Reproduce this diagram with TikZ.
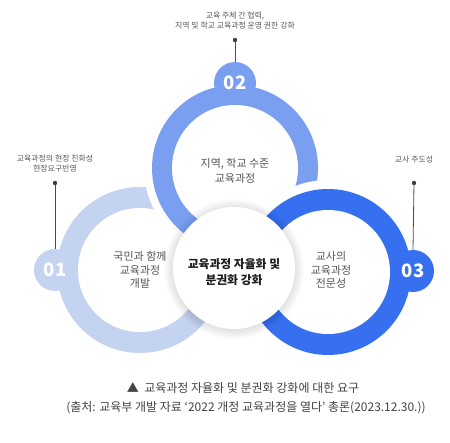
\documentclass[tikz,border=0pt]{standalone}
\usepackage{fontspec}
\setmainfont{Noto Sans CJK KR}
\definecolor{ringA}{HTML}{C4D4F0}
\definecolor{ringB}{HTML}{7A9FF0}
\definecolor{ringC}{HTML}{3670F0}
\definecolor{txtgray}{HTML}{555555}
\definecolor{lblgray}{HTML}{5A5A5A}
\definecolor{capgray}{HTML}{444444}
\tikzset{
  badge/.style={circle, minimum size=42pt, inner sep=0pt, text=white, font=\fontsize{18.5}{18}\selectfont\bfseries},
  ringtext/.style={align=center, text=txtgray, font=\fontsize{11}{13.5}\selectfont, inner sep=0pt},
  lbltext/.style={align=center, text=lblgray, font=\fontsize{7.9}{10}\selectfont, inner sep=0pt},
  centertext/.style={align=center, text=black!88, font=\fontsize{11.8}{15.5}\selectfont\bfseries, inner sep=0pt},
  captext/.style={text=capgray, font=\fontsize{12}{14}\selectfont, inner sep=0pt},
  marker/.style={draw=black!70, line width=0.8pt},
  markdot/.style={fill=black!75}
}
\begin{document}
\begin{tikzpicture}[x=1pt,y=-1pt]
\useasboundingbox (0,0) rectangle (450,442);
\fill[white] (0,0) rectangle (450,442);
% centers
\coordinate (cA) at (140,270);
\coordinate (cB) at (235,168);
\coordinate (cC) at (328,272);
\coordinate (cM) at (234,268);
% left ring
\fill[ringA] (cA) circle (83);
\fill[white] (cA) circle (62);
% top ring
\fill[white] (cB) circle (91);
\fill[ringB] (cB) circle (83);
\fill[white] (cB) circle (63);
% right ring
\fill[white] (cC) circle (92);
\fill[ringC] (cC) circle (83);
\fill[white] (cC) circle (62);
% center disk shadow
\foreach \r in {1,...,9}{
  \fill[black, opacity=0.011] ([yshift=-1pt]cM) circle (61+\r);
}
\fill[white] (cM) circle (61);
% badges
\node[badge, fill=ringA] (b1) at (55,270) {01};
\node[badge, fill=ringB] (b2) at (235,83) {02};
\node[badge, fill=ringC] (b3) at (413,271) {03};
% markers
\coordinate (d1) at (55,183);
\coordinate (d2) at (235,40);
\coordinate (d3) at (414,183);
\draw[marker] (d1) -- (b1.north);
\draw[marker] (d2) -- (b2.north);
\draw[marker] (d3) -- (b3.north);
\fill[markdot] (d1) circle (2.2);
\fill[markdot] (d2) circle (2.2);
\fill[markdot] (d3) circle (2.2);
% labels
\node[lbltext] (l2) at (235,20.5) {교육 주체 간 협력,\\지역 및 학교 교육과정 운영 권한 강화};
\node[lbltext] (l1) at (55,164) {교육과정의 현장 친화성\\현장요구반영};
\node[lbltext] (l3) at (414,160) {교사 주도성};
% ring texts
\node[ringtext] (tA) at (140,270) {국민과 함께\\교육과정\\개발};
\node[ringtext, font=\fontsize{11}{14.5}\selectfont] (tB) at (235,171) {지역, 학교 수준\\교육과정};
\node[ringtext] (tC) at (331,270) {교사의\\교육과정\\전문성};
\node[centertext] (tM) at (234,272) {교육과정 자율화 및\\분권화 강화};
% caption
\node[captext] (cap1) at (243,388) {▲\ \ 교육과정 자율화 및 분권화 강화에 대한 요구};
\node[captext] (cap2) at (246,408) {(출처: 교육부 개발 자료 ‘2022 개정 교육과정을 열다’ 총론(2023.12.30.))};
\end{tikzpicture}
\end{document}
